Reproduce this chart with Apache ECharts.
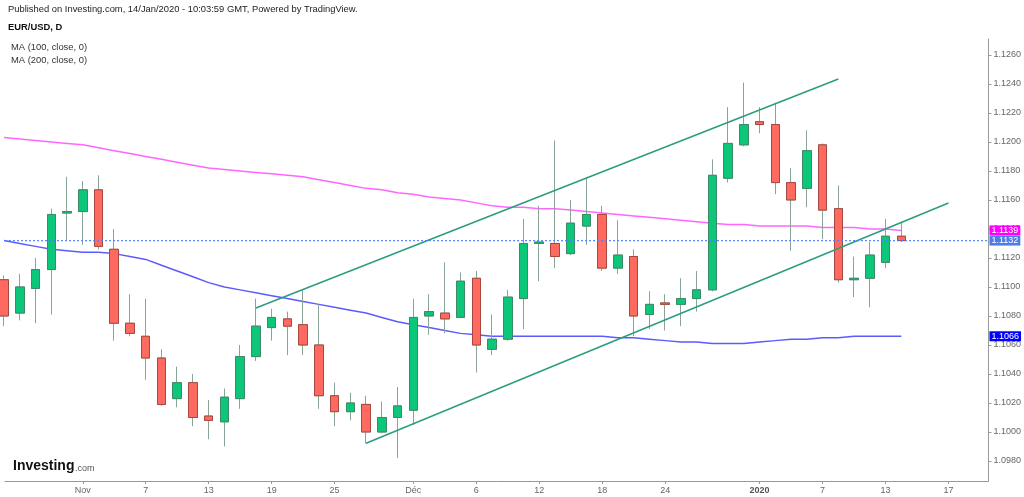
<!DOCTYPE html>
<html>
<head>
<meta charset="utf-8">
<script src="https://cdn.jsdelivr.net/npm/echarts@6/dist/echarts.min.js"></script>
<style>
  html, body { margin: 0; padding: 0; background: #fff; }
  #chart { width: 1024px; height: 497px; }
</style>
</head>
<body>
<div id="chart"></div>
<script>
// EUR/USD daily, 25 Oct 2019 .. 14 Jan 2020 (index 0..57)
var days = ['25 Oct', '28 Oct', '29 Oct', '30 Oct', '31 Oct',
  '1 Nov', '4 Nov', '5 Nov', '6 Nov', '7 Nov', '8 Nov', '11 Nov', '12 Nov', '13 Nov', '14 Nov', '15 Nov',
  '18 Nov', '19 Nov', '20 Nov', '21 Nov', '22 Nov', '25 Nov', '26 Nov', '27 Nov', '28 Nov', '29 Nov',
  '2 Dec', '3 Dec', '4 Dec', '5 Dec', '6 Dec', '9 Dec', '10 Dec', '11 Dec', '12 Dec', '13 Dec',
  '16 Dec', '17 Dec', '18 Dec', '19 Dec', '20 Dec', '23 Dec', '24 Dec', '25 Dec', '26 Dec', '27 Dec',
  '30 Dec', '31 Dec', '1 Jan', '2 Jan', '3 Jan', '6 Jan', '7 Jan', '8 Jan', '9 Jan', '10 Jan', '13 Jan', '14 Jan'];

var opens = [1.1105, 1.1082, 1.1099, 1.1112, 1.1151,
  1.1152, 1.1167, 1.1126, 1.1075, 1.1066, 1.1051, 1.1023, 1.1034, 1.1011, 1.1007, 1.1023,
  1.1052, 1.1072, 1.1078, 1.1074, 1.1060, 1.1025, 1.1014, 1.1019, 1.1000, 1.1010,
  1.1015, 1.1080, 1.1082, 1.1079, 1.1106, 1.1057, 1.1064, 1.1092, 1.1130, 1.1130,
  1.1123, 1.1142, 1.1150, 1.1113, 1.1121, 1.1081, 1.1089, 1.1088, 1.1092, 1.1098,
  1.1175, 1.1198, 1.1214, 1.1212, 1.1172, 1.1168, 1.1198, 1.1154, 1.1105, 1.1106, 1.1117, 1.1135];
var closes = [1.1080, 1.1100, 1.1112, 1.1150, 1.1152,
  1.1167, 1.1128, 1.1075, 1.1068, 1.1051, 1.1019, 1.1034, 1.1010, 1.1008, 1.1024, 1.1052,
  1.1073, 1.1079, 1.1073, 1.1060, 1.1025, 1.1014, 1.1020, 1.1000, 1.1010, 1.1018,
  1.1079, 1.1083, 1.1078, 1.1104, 1.1060, 1.1064, 1.1093, 1.1130, 1.1131, 1.1121,
  1.1144, 1.1150, 1.1113, 1.1122, 1.1080, 1.1088, 1.1088, 1.1092, 1.1098, 1.1177,
  1.1199, 1.1212, 1.1212, 1.1172, 1.1160, 1.1194, 1.1153, 1.1105, 1.1106, 1.1122, 1.1135, 1.1132];
var lows = [1.1073, 1.1077, 1.1075, 1.1081, 1.1132,
  1.1129, 1.1126, 1.1063, 1.1066, 1.1036, 1.1018, 1.1017, 1.1004, 1.0995, 1.0990, 1.1016,
  1.1049, 1.1063, 1.1053, 1.1053, 1.1016, 1.1004, 1.1008, 1.0992, 1.0999, 1.0982,
  1.1005, 1.1067, 1.1068, 1.1079, 1.1041, 1.1053, 1.1063, 1.1071, 1.1104, 1.1113,
  1.1122, 1.1129, 1.1111, 1.1109, 1.1066, 1.1071, 1.1070, 1.1073, 1.1083, 1.1097,
  1.1172, 1.1197, 1.1206, 1.1164, 1.1125, 1.1155, 1.1133, 1.1103, 1.1093, 1.1086, 1.1113, 1.1131];
var highs = [1.1108, 1.1109, 1.1120, 1.1154, 1.1176,
  1.1173, 1.1177, 1.1140, 1.1095, 1.1092, 1.1057, 1.1045, 1.1040, 1.1022, 1.1030, 1.1060,
  1.1092, 1.1085, 1.1083, 1.1098, 1.1088, 1.1034, 1.1027, 1.1025, 1.1021, 1.1031,
  1.1092, 1.1095, 1.1117, 1.1110, 1.1111, 1.1081, 1.1098, 1.1147, 1.1156, 1.1201,
  1.1160, 1.1175, 1.1156, 1.1146, 1.1126, 1.1097, 1.1095, 1.1106, 1.1111, 1.1188,
  1.1224, 1.1241, 1.1224, 1.1227, 1.1182, 1.1208, 1.1199, 1.1170, 1.1121, 1.1131, 1.1147, 1.1145];

var ma100 = [1.1132, 1.1130, 1.1128, 1.1126, 1.1125,
  1.1124, 1.1124, 1.1123, 1.1121, 1.1119, 1.1115, 1.1111, 1.1107, 1.1103, 1.1100, 1.1098,
  1.1096, 1.1094, 1.1092, 1.1090, 1.1088, 1.1086, 1.1084, 1.1082, 1.1079, 1.1076,
  1.1074, 1.1072, 1.1070, 1.1068, 1.1067, 1.1066, 1.1066, 1.1066, 1.1066, 1.1066,
  1.1066, 1.1066, 1.1066, 1.1065, 1.1065, 1.1064, 1.1063, 1.1062, 1.1062, 1.1061,
  1.1061, 1.1061, 1.1062, 1.1063, 1.1064, 1.1064, 1.1065, 1.1065, 1.1066, 1.1066, 1.1066, 1.1066];
var ma200 = [1.1203, 1.1202, 1.1201, 1.1200, 1.1199,
  1.1198, 1.1196, 1.1194, 1.1192, 1.1190, 1.1188, 1.1186, 1.1184, 1.1182, 1.1181, 1.1180,
  1.1179, 1.1178, 1.1177, 1.1176, 1.1174, 1.1172, 1.1170, 1.1168, 1.1167, 1.1165,
  1.1164, 1.1162, 1.1161, 1.1160, 1.1158, 1.1156, 1.1155, 1.1155, 1.1154, 1.1154,
  1.1153, 1.1152, 1.1151, 1.1150, 1.1149, 1.1148, 1.1147, 1.1146, 1.1145, 1.1144,
  1.1143, 1.1143, 1.1142, 1.1142, 1.1142, 1.1142, 1.1141, 1.1141, 1.1141, 1.1140, 1.1140, 1.1139];

// channel drawn on the chart: [day index, price]
var upperChannel = [[16, 1.10855], [53, 1.12434]];
var lowerChannel = [[23, 1.09922], [60, 1.11579]];

// x tick positions (day index, future days continue the count) and their labels
var xTickIdx = [5, 9, 13, 17, 21, 26, 30, 34, 38, 42, 48, 52, 56, 60];
var xTickText = ['Nov', '7', '13', '19', '25', 'Déc', '6', '12', '18', '24', '2020', '7', '13', '17'];
var priceTicks = [1.0980, 1.1000, 1.1020, 1.1040, 1.1060, 1.1080, 1.1100,
  1.1120, 1.1140, 1.1160, 1.1180, 1.1200, 1.1220, 1.1240, 1.1260];

var FONT = 'Liberation Sans, Arial, sans-serif';
var X_MIN = 0.06, X_MAX = 62.54;

var candles = [], bodies = [];
for (var i = 0; i < opens.length; i++) {
  candles.push([i, opens[i], closes[i], lows[i], highs[i]]);
  bodies.push([i, opens[i], closes[i], Math.min(opens[i], closes[i]), Math.max(opens[i], closes[i])]);
}
var ma100Data = ma100.map(function (v, i) { return [i, v]; });
var ma200Data = ma200.map(function (v, i) { return [i, v]; });
var lastClose = closes[closes.length - 1];
var lastMa100 = ma100[ma100.length - 1];
var lastMa200 = ma200[ma200.length - 1];

// a flat series used only to carry a price tag on the right axis
function priceTag(value, bg, showLine) {
  return {
    type: 'line', data: [[X_MIN, value], [X_MAX, value]], symbol: 'none', silent: true, z: 6,
    color: '#4a7cff',
    lineStyle: showLine ? { color: '#4a7cff', type: [2, 2], width: 1.2, opacity: 0.9 } : { width: 0, color: 'rgba(0,0,0,0)' },
    endLabel: {
      show: true, distance: 1, color: '#fff', backgroundColor: bg,
      fontSize: 9, fontFamily: FONT, padding: [1, 2, 0, 2],
      formatter: function () { return value.toFixed(4); }
    }
  };
}

var chart = echarts.init(document.getElementById('chart'));
chart.setOption({
  animation: false,
  backgroundColor: '#fff',
  grid: { left: 5, right: 35, top: 39, bottom: 16 },
  xAxis: {
    type: 'value', min: X_MIN, max: X_MAX,
    splitLine: { show: false },
    axisLine: { lineStyle: { color: '#999' } },
    axisTick: { show: true, length: 3, lineStyle: { color: '#999' }, customValues: xTickIdx },
    axisLabel: {
      customValues: xTickIdx, color: '#666', fontSize: 9, fontFamily: FONT, margin: 5,
      formatter: function (v) {
        var k = xTickIdx.indexOf(Math.round(v));
        if (k < 0) return '';
        return xTickText[k] === '2020' ? '{y|2020}' : xTickText[k];
      },
      rich: { y: { fontSize: 9, fontFamily: FONT, fontWeight: 'bold', color: '#555' } }
    }
  },
  yAxis: {
    type: 'value', position: 'right', min: 1.09662, max: 1.1271, scale: true,
    splitLine: { show: false },
    axisLine: { show: true, lineStyle: { color: '#999' } },
    axisTick: { show: true, length: 3, lineStyle: { color: '#999' }, customValues: priceTicks },
    axisLabel: {
      customValues: priceTicks, color: '#666', fontSize: 9, fontFamily: FONT, margin: 5,
      formatter: function (v) { return v.toFixed(4); }
    }
  },
  series: [
    priceTag(lastClose, '#4f7be8', true),
    {
      name: 'MA100', type: 'line', data: ma100Data, symbol: 'none', z: 2,
      lineStyle: { color: '#5b5bff', width: 1.5 }
    },
    {
      name: 'MA200', type: 'line', data: ma200Data, symbol: 'none', z: 2,
      lineStyle: { color: '#ff66ff', width: 1.5 }
    },
    {
      name: 'wicks', type: 'candlestick', data: candles, barWidth: 9, z: 3,
      encode: { x: 0, y: [1, 2, 3, 4] },
      itemStyle: { color: '#0cc67a', color0: '#ff6a60', borderColor: '#8aa597', borderColor0: '#8aa597', borderWidth: 1 }
    },
    {
      name: 'bodies', type: 'candlestick', data: bodies, barWidth: 9, z: 4,
      encode: { x: 0, y: [1, 2, 3, 4] },
      itemStyle: { color: '#0cc67a', color0: '#ff6a60', borderColor: '#3f8a66', borderColor0: '#a8473f', borderWidth: 1 }
    },
    {
      name: 'upper', type: 'line', data: upperChannel, symbol: 'none', z: 5,
      lineStyle: { color: '#2a9d80', width: 1.5 }
    },
    {
      name: 'lower', type: 'line', data: lowerChannel, symbol: 'none', z: 5,
      lineStyle: { color: '#2a9d80', width: 1.5 }
    },
    priceTag(lastMa200, '#ff00ff', false),
    priceTag(lastMa100, '#0000ff', false)
  ],
  graphic: [
    { type: 'text', left: 8, top: 5, style: { text: 'Published on Investing.com, 14/Jan/2020 - 10:03:59 GMT, Powered by TradingView.', fill: '#222', font: '9.4px ' + FONT } },
    { type: 'text', left: 8, top: 23, style: { text: 'EUR/USD, D', fill: '#111', font: 'bold 9.4px ' + FONT } },
    { type: 'text', left: 11, top: 43, style: { text: 'MA (100, close, 0)', fill: '#333', font: '9.4px ' + FONT } },
    { type: 'text', left: 11, top: 56, style: { text: 'MA (200, close, 0)', fill: '#333', font: '9.4px ' + FONT } },
    { type: 'text', left: 13, top: 459, style: { text: 'Investing', fill: '#111', font: 'bold 14px ' + FONT } },
    { type: 'text', left: 75, top: 464, style: { text: '.com', fill: '#555', font: '9px ' + FONT } }
  ]
});
</script>
</body>
</html>
